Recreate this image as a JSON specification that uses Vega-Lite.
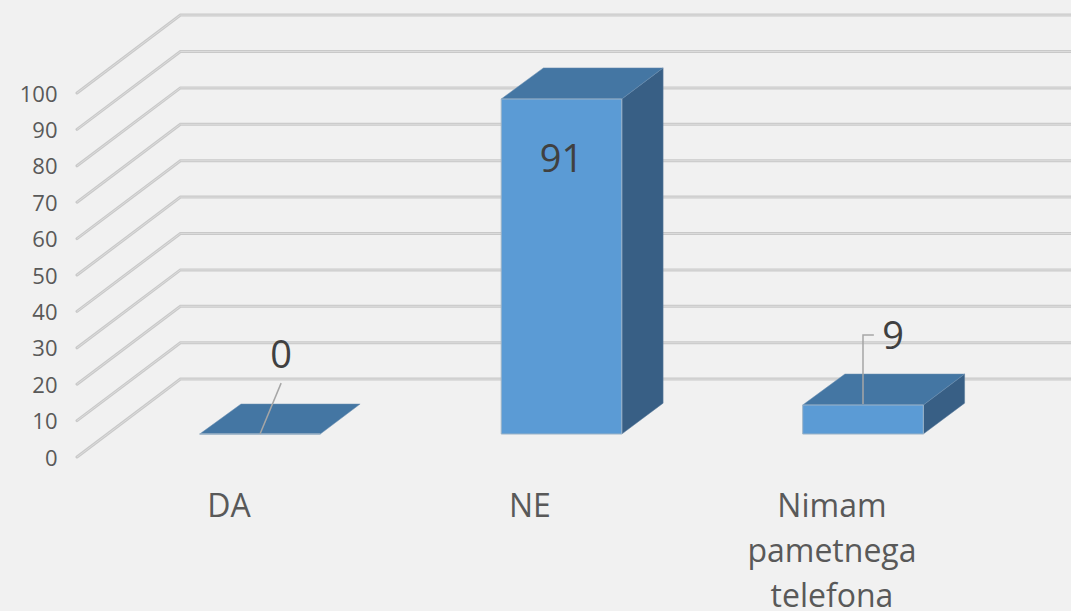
{"$schema":"https://vega.github.io/schema/vega-lite/v6.json","width":1071,"height":611,"padding":0,"autosize":{"type":"none"},"background":"#f1f1f1","config":{"view":{"stroke":null}},
"datasets":{
"grid":[{"t":0,"c":-0.607,"v":0},{"t":0,"c":-0.264,"v":21.4},{"t":0,"c":2.69,"v":21.4},{"t":10,"c":-0.607,"v":10},{"t":10,"c":-0.264,"v":31.4},{"t":10,"c":2.69,"v":31.4},{"t":20,"c":-0.607,"v":20},{"t":20,"c":-0.264,"v":41.4},{"t":20,"c":2.69,"v":41.4},{"t":30,"c":-0.607,"v":30},{"t":30,"c":-0.264,"v":51.4},{"t":30,"c":2.69,"v":51.4},{"t":40,"c":-0.607,"v":40},{"t":40,"c":-0.264,"v":61.4},{"t":40,"c":2.69,"v":61.4},{"t":50,"c":-0.607,"v":50},{"t":50,"c":-0.264,"v":71.4},{"t":50,"c":2.69,"v":71.4},{"t":60,"c":-0.607,"v":60},{"t":60,"c":-0.264,"v":81.4},{"t":60,"c":2.69,"v":81.4},{"t":70,"c":-0.607,"v":70},{"t":70,"c":-0.264,"v":91.4},{"t":70,"c":2.69,"v":91.4},{"t":80,"c":-0.607,"v":80},{"t":80,"c":-0.264,"v":101.4},{"t":80,"c":2.69,"v":101.4},{"t":90,"c":-0.607,"v":90},{"t":90,"c":-0.264,"v":111.4},{"t":90,"c":2.69,"v":111.4},{"t":100,"c":-0.607,"v":100},{"t":100,"c":-0.264,"v":121.4},{"t":100,"c":2.69,"v":121.4}],
"front":[{"cat":"DA","l":-0.2,"r":0.2,"low":6.32,"high":6.32},{"cat":"NE","l":0.8,"r":1.2,"low":6.32,"high":98.35},{"cat":"Nimam pametnega telefona","l":1.8,"r":2.2,"low":6.32,"high":14.29}],
"top":[{"cat":"DA","v":6.32,"l":-0.2,"r":0.2},{"cat":"DA","v":14.56,"l":-0.063,"r":0.332},{"cat":"NE","v":98.35,"l":0.8,"r":1.2},{"cat":"NE","v":106.9,"l":0.94,"r":1.337},{"cat":"Nimam pametnega telefona","v":14.29,"l":1.8,"r":2.2},{"cat":"Nimam pametnega telefona","v":22.8,"l":1.94,"r":2.337}],
"side":[{"cat":"NE","c":1.2,"low":6.32,"high":98.35},{"cat":"NE","c":1.337,"low":14.8,"high":106.9},{"cat":"Nimam pametnega telefona","c":2.2,"low":6.32,"high":14.29},{"cat":"Nimam pametnega telefona","c":2.337,"low":14.8,"high":22.8}],
"leader":[{"cat":"DA","o":0,"c":0,"v":6.32},{"cat":"DA","o":1,"c":0.07,"v":20.3},{"cat":"Nimam pametnega telefona","o":0,"c":2.0,"v":14.56},{"cat":"Nimam pametnega telefona","o":1,"c":2.0,"v":33.5},{"cat":"Nimam pametnega telefona","o":2,"c":2.036,"v":33.5}],
"values":[{"label":"0","c":0.07,"v":27.6},{"label":"91","c":1.0,"v":81.2},{"label":"9","c":2.1,"v":32.6}],
"cats":[{"label":"DA","c":-0.103,"v":-16.5},{"label":"NE","c":0.895,"v":-16.5},{"label":"Nimam\npametnega\ntelefona","c":1.897,"v":-16.5}]
},
"encoding":{},
"layer":[
{"data":{"name":"grid"},"mark":{"type":"line","color":"#c9c9c9","strokeWidth":3,"strokeCap":"round"},"encoding":{"x":{"field":"c","type":"quantitative","scale":{"domain":[-0.8624,2.6899],"range":[0,1071],"nice":false,"zero":false},"axis":null},"y":{"field":"v","type":"quantitative","scale":{"domain":[-42.3,125.55],"range":[611,0],"nice":false,"zero":false},"axis":{"values":[0,10,20,30,40,50,60,70,80,90,100],"offset":-57,"domain":false,"ticks":false,"grid":false,"title":null,"labelPadding":0,"labelOffset":1,"labelFont":"Open Sans","labelFontSize":22,"labelColor":"#595959"}},"detail":{"field":"t"},"order":{"field":"c"}}},
{"data":{"name":"grid"},"mark":{"type":"line","color":"#dcdcdc","strokeWidth":1},"encoding":{"x":{"field":"c","type":"quantitative"},"y":{"field":"v","type":"quantitative"},"detail":{"field":"t"},"order":{"field":"c"}}},
{"data":{"name":"side"},"mark":{"type":"area","color":"#385f85","stroke":"#5f7f9f","strokeWidth":0.5},"encoding":{"x":{"field":"c","type":"quantitative"},"y":{"field":"low","type":"quantitative"},"y2":{"field":"high"},"detail":{"field":"cat"}}},
{"data":{"name":"top"},"mark":{"type":"area","orient":"horizontal","color":"#4476a3","stroke":"#6a8fb0","strokeWidth":0.5},"encoding":{"y":{"field":"v","type":"quantitative"},"x":{"field":"l","type":"quantitative"},"x2":{"field":"r"},"detail":{"field":"cat"}}},
{"data":{"name":"front"},"mark":{"type":"rect","color":"#5b9bd5","stroke":"#9db4c8","strokeWidth":1},"encoding":{"x":{"field":"l","type":"quantitative"},"x2":{"field":"r"},"y":{"field":"low","type":"quantitative"},"y2":{"field":"high"}}},
{"data":{"name":"leader"},"mark":{"type":"line","color":"#a6a6a6","strokeWidth":1.5},"encoding":{"x":{"field":"c","type":"quantitative"},"y":{"field":"v","type":"quantitative"},"detail":{"field":"cat"},"order":{"field":"o"}}},
{"data":{"name":"values"},"mark":{"type":"text","font":"Open Sans","fontSize":38,"color":"#404040","baseline":"middle","align":"center"},"encoding":{"x":{"field":"c","type":"quantitative"},"y":{"field":"v","type":"quantitative"},"text":{"field":"label"}}},
{"data":{"name":"cats"},"mark":{"type":"text","font":"Open Sans","fontSize":32,"color":"#595959","align":"center","baseline":"alphabetic","lineBreak":"\n","lineHeight":45},"encoding":{"x":{"field":"c","type":"quantitative"},"y":{"field":"v","type":"quantitative"},"text":{"field":"label"}}}
]}
